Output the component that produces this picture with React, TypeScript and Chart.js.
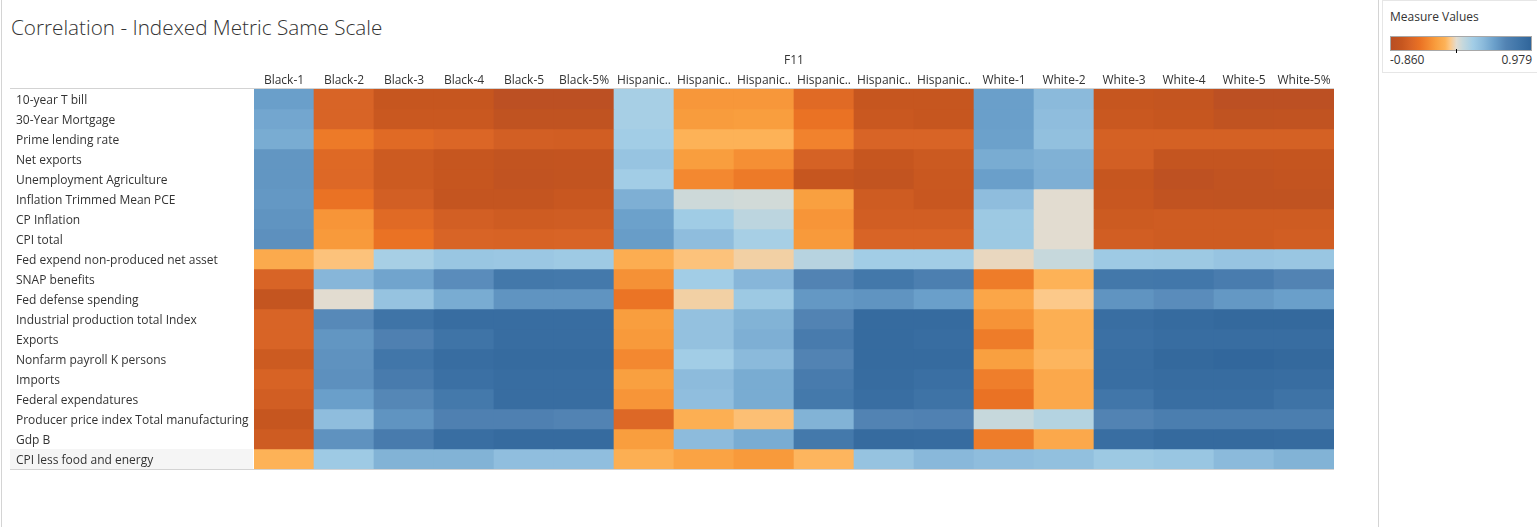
import React, { useEffect, useRef } from "react";
import { Chart, registerables } from "chart.js";
Chart.register(...registerables);

const columnLabels = ["Black-1", "Black-2", "Black-3", "Black-4", "Black-5", "Black-5%", "Hispanic..", "Hispanic..", "Hispanic..", "Hispanic..", "Hispanic..", "Hispanic..", "White-1", "White-2", "White-3", "White-4", "White-5", "White-5%"];

const rowLabels = ["10-year T bill", "30-Year Mortgage", "Prime lending rate", "Net exports", "Unemployment Agriculture", "Inflation Trimmed Mean PCE", "CP Inflation", "CPI total", "Fed expend non-produced net asset", "SNAP benefits", "Fed defense spending", "Industrial production total Index", "Exports", "Nonfarm payroll K persons", "Imports", "Federal expendatures", "Producer price index Total manufacturing", "Gdp B", "CPI less food and energy"];

const tBill10 = [0.5, -0.6, -0.72, -0.72, -0.82, -0.82, 0.2, -0.3, -0.3, -0.55, -0.72, -0.72, 0.5, 0.35, -0.72, -0.74, -0.82, -0.82];
const mortgage30 = [0.46, -0.6, -0.7, -0.7, -0.78, -0.78, 0.2, -0.28, -0.27, -0.48, -0.7, -0.72, 0.5, 0.33, -0.7, -0.72, -0.78, -0.77];
const primeRate = [0.43, -0.44, -0.55, -0.58, -0.64, -0.65, 0.22, -0.15, -0.15, -0.4, -0.6, -0.6, 0.49, 0.31, -0.63, -0.63, -0.63, -0.63];
const netExports = [0.55, -0.56, -0.68, -0.72, -0.76, -0.75, 0.28, -0.27, -0.34, -0.62, -0.72, -0.69, 0.43, 0.4, -0.64, -0.74, -0.74, -0.73];
const unempAgri = [0.55, -0.57, -0.68, -0.72, -0.77, -0.76, 0.22, -0.37, -0.44, -0.72, -0.76, -0.7, 0.5, 0.41, -0.72, -0.8, -0.77, -0.75];
const trimmedPce = [0.54, -0.48, -0.64, -0.74, -0.74, -0.71, 0.41, 0.06, 0.05, -0.26, -0.67, -0.71, 0.33, 0.0, -0.71, -0.77, -0.78, -0.78];
const cpInflation = [0.56, -0.31, -0.55, -0.64, -0.67, -0.66, 0.49, 0.23, 0.12, -0.31, -0.65, -0.65, 0.25, 0.0, -0.68, -0.67, -0.67, -0.67];
const cpiTotal = [0.58, -0.29, -0.48, -0.6, -0.61, -0.6, 0.51, 0.33, 0.2, -0.29, -0.6, -0.6, 0.25, 0.0, -0.65, -0.67, -0.67, -0.65];
const fedNonProduced = [-0.2, -0.1, 0.2, 0.27, 0.26, 0.24, -0.18, -0.1, -0.05, 0.14, 0.22, 0.22, -0.02, 0.08, 0.24, 0.25, 0.28, 0.27];
const snapBenefits = [-0.6, 0.37, 0.47, 0.6, 0.78, 0.77, -0.33, 0.22, 0.37, 0.65, 0.78, 0.7, -0.43, -0.15, 0.78, 0.79, 0.73, 0.65];
const fedDefense = [-0.74, 0.0, 0.29, 0.43, 0.56, 0.56, -0.47, -0.05, 0.25, 0.54, 0.56, 0.5, -0.22, -0.08, 0.56, 0.6, 0.54, 0.5];
const industrialProd = [-0.6, 0.62, 0.82, 0.9, 0.9, 0.9, -0.27, 0.3, 0.39, 0.65, 0.92, 0.92, -0.32, -0.17, 0.88, 0.92, 0.94, 0.94];
const exportsRow = [-0.6, 0.55, 0.68, 0.82, 0.9, 0.9, -0.29, 0.3, 0.41, 0.74, 0.92, 0.9, -0.43, -0.17, 0.86, 0.9, 0.9, 0.89];
const nonfarmPayroll = [-0.68, 0.57, 0.8, 0.9, 0.92, 0.92, -0.37, 0.22, 0.35, 0.65, 0.92, 0.92, -0.26, -0.14, 0.88, 0.94, 0.96, 0.94];
const importsRow = [-0.61, 0.58, 0.74, 0.86, 0.89, 0.89, -0.26, 0.34, 0.43, 0.74, 0.91, 0.87, -0.42, -0.21, 0.88, 0.91, 0.91, 0.89];
const fedExpend = [-0.65, 0.5, 0.63, 0.77, 0.89, 0.89, -0.31, 0.32, 0.43, 0.77, 0.88, 0.83, -0.48, -0.21, 0.8, 0.88, 0.88, 0.83];
const ppiManufacturing = [-0.72, 0.33, 0.56, 0.68, 0.68, 0.65, -0.57, -0.17, -0.11, 0.39, 0.65, 0.67, 0.08, 0.15, 0.65, 0.71, 0.71, 0.71];
const gdpB = [-0.67, 0.57, 0.74, 0.88, 0.92, 0.92, -0.27, 0.34, 0.43, 0.77, 0.92, 0.91, -0.43, -0.21, 0.88, 0.93, 0.93, 0.92];
const cpiCore = [-0.15, 0.24, 0.39, 0.39, 0.32, 0.32, -0.17, -0.24, -0.29, -0.14, 0.29, 0.36, 0.33, 0.31, 0.25, 0.27, 0.35, 0.39];

const matrix = [tBill10, mortgage30, primeRate, netExports, unempAgri, trimmedPce, cpInflation, cpiTotal, fedNonProduced, snapBenefits, fedDefense, industrialProd, exportsRow, nonfarmPayroll, importsRow, fedExpend, ppiManufacturing, gdpB, cpiCore];

const scaleMin = -0.86;
const scaleMax = 0.979;
const legendLabels = ["-0.860", "0.979"];

const colorStops: [number, string][] = [
  [-0.86, "#b84e24"], [-0.72, "#c6561f"], [-0.6, "#d86426"], [-0.48, "#ea7224"],
  [-0.37, "#f38830"], [-0.27, "#f99e3e"], [-0.15, "#fdb257"], [-0.08, "#fcc98a"],
  [0, "#e2dcd0"], [0.08, "#c6d8dc"], [0.22, "#a2cde6"], [0.35, "#8bbadb"],
  [0.5, "#6a9fca"], [0.65, "#5283b3"], [0.8, "#4176a9"], [0.979, "#30659a"],
];

function hexToRgb(h: string) {
  const n = parseInt(h.slice(1), 16);
  return [(n >> 16) & 255, (n >> 8) & 255, n & 255];
}

function colorFor(v: number) {
  if (v <= colorStops[0][0]) return colorStops[0][1];
  for (let i = 1; i < colorStops.length; i++) {
    const [v1, c1] = colorStops[i];
    const [v0, c0] = colorStops[i - 1];
    if (v <= v1) {
      const t = (v - v0) / (v1 - v0);
      const a = hexToRgb(c0), b = hexToRgb(c1);
      const r = a.map((x, k) => Math.round(x + (b[k] - x) * t));
      return `rgb(${r[0]},${r[1]},${r[2]})`;
    }
  }
  return colorStops[colorStops.length - 1][1];
}

const FONT = "'Open Sans', 'Noto Sans', sans-serif";

const framePlugin = {
  id: "frame",
  beforeDraw(chart: any) {
    const { ctx, chartArea, scales } = chart;
    const y = scales.y;
    ctx.save();
    const last = rowLabels.length - 1;
    const yTop = y.getPixelForValue(last);
    const yBot = y.getPixelForValue(last + 1);
    ctx.fillStyle = "#f5f5f5";
    ctx.fillRect(10, yTop, chartArea.left - 11, yBot - yTop);
    ctx.restore();
  },
  afterDatasetsDraw(chart: any) {
    const { ctx, chartArea } = chart;
    ctx.save();
    ctx.strokeStyle = "#d3d3d3";
    ctx.lineWidth = 1;
    ctx.beginPath();
    ctx.moveTo(10, chartArea.top - 0.5);
    ctx.lineTo(chartArea.right, chartArea.top - 0.5);
    ctx.moveTo(10, chartArea.bottom + 0.5);
    ctx.lineTo(chartArea.right, chartArea.bottom + 0.5);
    ctx.stroke();
    ctx.restore();
  },
};

export default function App() {
  const ref = useRef<HTMLCanvasElement>(null);
  useEffect(() => {
    const datasets = matrix.map((row, r) => ({
      label: rowLabels[r],
      data: columnLabels.map(() => [r, r + 1]),
      backgroundColor: row.map(colorFor),
      borderWidth: 0,
      barPercentage: 1,
      categoryPercentage: 1,
      grouped: false,
    }));
    const chart = new Chart(ref.current!, {
      type: "bar",
      data: { labels: columnLabels, datasets: datasets as any },
      plugins: [framePlugin],
      options: {
        animation: false,
        responsive: false,
        layout: { padding: { left: 16, top: 49, right: 44, bottom: 58 } },
        plugins: { legend: { display: false }, tooltip: { enabled: false } },
        scales: {
          x: {
            type: "category",
            position: "top",
            grid: { display: false, drawTicks: false },
            border: { display: false },
            ticks: { color: "#333", font: { family: FONT, size: 12 }, padding: 1, maxRotation: 0, autoSkip: false },
            title: { display: true, text: "F11", color: "#333", font: { family: FONT, size: 12 }, padding: { top: 4, bottom: 3 } },
            afterFit: (s: any) => { s.height = 40; },
          },
          y: {
            type: "linear",
            min: 0,
            max: rowLabels.length,
            reverse: true,
            grid: { display: false, drawTicks: false },
            border: { display: false },
            afterBuildTicks: (s: any) => { s.ticks = rowLabels.map((_, i) => ({ value: i + 0.5 })); },
            ticks: {
              color: "#333",
              font: { family: FONT, size: 12 },
              crossAlign: "far",
              autoSkip: false,
              labelOffset: 2,
              callback: (v: any) => rowLabels[Math.floor(Number(v))],
            },
            afterFit: (s: any) => { s.width = 238; },
          },
        },
      } as any,
    });
    return () => chart.destroy();
  }, []);

  const gradient = `linear-gradient(to right, ${colorStops
    .map(([v, c]) => `${c} ${(((v - scaleMin) / (scaleMax - scaleMin)) * 100).toFixed(1)}%`)
    .join(", ")})`;
  const zeroPos = ((0 - scaleMin) / (scaleMax - scaleMin)) * 140;

  return (
    <div style={{ position: "absolute", left: 0, top: 0, width: 1537, height: 527, background: "#fff", fontFamily: FONT, overflow: "hidden" }}>
      <div style={{ position: "absolute", left: 1, top: 0, width: 1, height: 527, background: "#d4d4d4" }} />
      <div style={{ position: "absolute", left: 11, top: 12, fontSize: 20.7, fontWeight: 300, color: "#333", whiteSpace: "nowrap", lineHeight: "30px" }}>
        Correlation - Indexed Metric Same Scale
      </div>
      <canvas ref={ref} width={1378} height={527} style={{ position: "absolute", left: 0, top: 0 }} />
      <div style={{ position: "absolute", left: 1378, top: 0, width: 1, height: 527, background: "#d4d4d4" }} />
      <div style={{ position: "absolute", left: 1382, top: 0, width: 154, height: 71, border: "1px solid #e6e6e6" }} />
      <div style={{ position: "absolute", left: 1390, top: 8, fontSize: 12, color: "#333", lineHeight: "18px", whiteSpace: "nowrap" }}>Measure Values</div>
      <div style={{ position: "absolute", left: 1390, top: 36, width: 140, height: 13, border: "1px solid #a8a8a8", background: gradient }} />
      <div style={{ position: "absolute", left: 1391 + zeroPos, top: 49, width: 1, height: 4, background: "#000" }} />
      <div style={{ position: "absolute", left: 1390, top: 51, fontSize: 12, color: "#333", lineHeight: "18px" }}>{legendLabels[0]}</div>
      <div style={{ position: "absolute", left: 1432, width: 100, textAlign: "right", top: 51, fontSize: 12, color: "#333", lineHeight: "18px" }}>{legendLabels[1]}</div>
    </div>
  );
}
